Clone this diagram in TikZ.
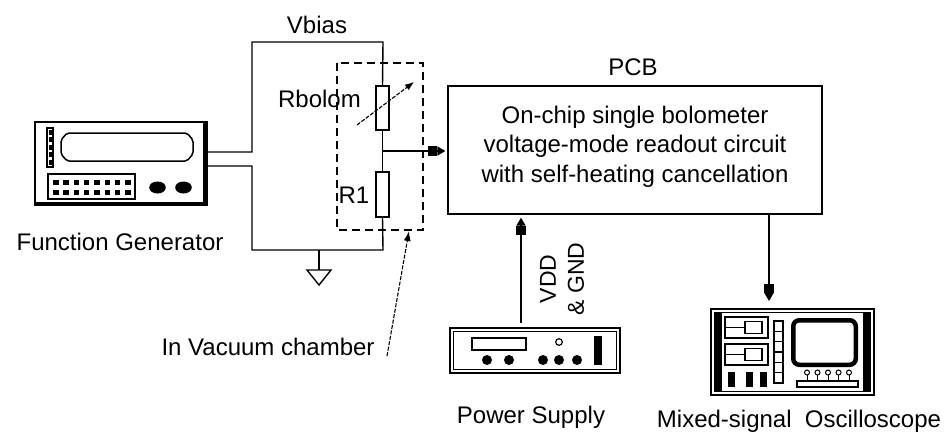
\documentclass[tikz,border=0pt]{standalone}
\usepackage{fontspec}
\setmainfont{Liberation Sans}
\usetikzlibrary{arrows.meta,calc}
\begin{document}
\begin{tikzpicture}[x=1pt,y=-1pt,
  wire/.style={line width=1.4pt},
  lbl/.style={font=\fontsize{24}{29}\selectfont, inner sep=0pt, anchor=base},
  sig/.style={wire,-{Rectangle[length=9pt,width=10pt]Triangle[length=8pt,width=9pt]}},
  res/.style={draw, line width=1.4pt, minimum width=13pt, inner sep=0pt, fill=white},
  enclosure/.style={line width=1.3pt, dash pattern=on 8pt off 5pt},
  pointer/.style={line width=1.1pt, dash pattern=on 4pt off 1.5pt},
  frame/.style={draw, line width=1.3pt, inner sep=0pt},
  part/.style={line width=1.2pt},
]
\useasboundingbox (0,0) rectangle (949,432);

% ---------------- function generator ----------------
\node[frame, minimum width=172pt, minimum height=83pt] (fg) at (121,163.5) {};
\draw[line width=4pt] (205,122) -- (205,204) -- (35,204);
\draw[line width=1.5pt, rounded corners=2pt]
  (67,133) -- (187,133) -- (193,140) -- (193,154) -- (187,161)
  -- (67,161) -- (61,154) -- (61,140) -- cycle;
\draw[part] (47,128) rectangle (53,167);
\foreach \i in {0,...,4} \fill (48.5,130+\i*7.4) rectangle +(3,5);
\draw[part] (48,174) rectangle (135,199);
\foreach \c in {0,...,7}
  \foreach \r in {0,1}
    \fill (53+\c*10.3,179.5+\r*10) rectangle +(5.5,5.5);
\fill (157.5,187.5) ellipse [x radius=8.3, y radius=6];
\fill (183.5,187.5) ellipse [x radius=8.3, y radius=6];
\node[lbl] (fglabel) at (120,250) {Function Generator};

% ---------------- bias network ----------------
\coordinate (fga) at (207,152);
\coordinate (fgb) at (207,166);
\coordinate (tl) at (252,42);
\coordinate (tr) at (383,42);
\coordinate (bl) at (252,250);
\coordinate (br) at (383,250);
\coordinate (junc) at (383,151);
\coordinate (gnd) at (319,250);

\node[res, minimum height=44pt] (rb) at (382.5,108) {};
\node[res, minimum height=45pt] (r1) at (382.5,194.5) {};

\draw[wire] (fga) -| (tl) -- (tr) -- (rb.north);
\draw[wire] (rb.south) -- (r1.north);
\draw[wire] (r1.south) -- (br) -- (bl) |- (fgb);
\draw[wire] (gnd) -- ++(0,20) coordinate (gndtop);
\draw[wire] ($(gndtop)+(-12,0)$) -- ($(gndtop)+(12,0)$) -- ($(gndtop)+(0,15)$) -- cycle;

% variable-resistance arrow across the bolometer
\coordinate (va) at (357,125);
\coordinate (vb) at (414,82);
\draw[pointer, -{Latex[length=9pt,width=7pt]}] (va) -- (vb);

\node[lbl] (vbias) at (317,33) {Vbias};
\node[lbl] (rblabel) at (319.5,107) {Rbolom};
\node[lbl] (r1label) at (354,203) {R1};

% vacuum chamber outline and its pointer
\draw[enclosure] (337,63) rectangle (423,230);
\coordinate (vacin) at (409,231);
\coordinate (vacfoot) at (387,356);
\draw[pointer, -{Latex[length=10pt,width=7pt]}] (vacfoot) -- (vacin);
\node[lbl] (vaclabel) at (268,355) {In Vacuum chamber};

% ---------------- PCB ----------------
\node[frame, minimum width=374pt, minimum height=128pt] (pcb) at (635,150) {};
\node[lbl] (pcblabel) at (633,75) {PCB};
\node[lbl] (pcbl1) at (635,123) {On-chip single bolometer};
\node[lbl] (pcbl2) at (635,152.5) {voltage-mode readout circuit};
\node[lbl] (pcbl3) at (635,182) {with self-heating cancellation};

\draw[sig, shorten >=2pt] (junc) -- (junc -| pcb.west);

% ---------------- power supply ----------------
\node[frame, minimum width=170pt, minimum height=45pt] (ps) at (535,350.5) {};
\draw[part] (453.5,331.5) rectangle (616.5,369.5);
\draw[line width=2.2pt] (472,338) rectangle (526,350);
\foreach \x in {487,509,543,559,577} \fill (\x,360) circle[radius=5];
\draw[part] (559,342) circle[radius=3.3];
\fill (594,336) rectangle (602,365);
\node[lbl] (pslabel) at (531,423) {Power Supply};

\coordinate (psout) at (521,323);
\draw[sig, shorten >=3pt] (psout) -- (psout |- pcb.south);
\node[font=\fontsize{23}{28}\selectfont, inner sep=0pt, align=center, rotate=90]
  (vdd) at (562,279) {VDD\\\& GND};

% ---------------- oscilloscope ----------------
\node[frame, minimum width=163pt, minimum height=86pt] (osc) at (792.5,352) {};
\draw[part] (714.5,312.5) rectangle (870.5,391.5);
\fill (715,313) rectangle (722,391);
\fill (863,313) rectangle (870,391);
\draw[part] (725,317) rectangle (768,338);
\draw[part] (745,321.5) rectangle (762,333.5);
\draw[part] (725,327.5) -- (745,327.5);
\draw[part] (725,344) rectangle (768,365);
\draw[part] (745,348.5) rectangle (762,360.5);
\draw[part] (725,354.5) -- (745,354.5);
\draw[part] (774,321) rectangle (783,383);
\foreach \k in {1,...,5} \draw[part] (774,321+\k*10.33) -- (783,321+\k*10.33);
\foreach \x in {728,746,760} \fill (\x,372) rectangle +(7,15);
\draw[line width=4.5pt, rounded corners=6pt] (793.25,320.25) rectangle (855.75,364.75);
\draw[part] (797,381) rectangle (858,387);
\foreach \i in {0,...,4} {
  \draw[line width=1pt] (807+\i*10.5,374.5) -- (807+\i*10.5,381);
  \draw[line width=1pt] (807+\i*10.5,372.5) circle[radius=2.5];
}
\node[lbl] (osclabel) at (799,427) {Mixed-signal\ \ Oscilloscope};

\coordinate (oscin) at (769,309);
\draw[sig, shorten >=8pt] (oscin |- pcb.south) -- (oscin);
\end{tikzpicture}
\end{document}
